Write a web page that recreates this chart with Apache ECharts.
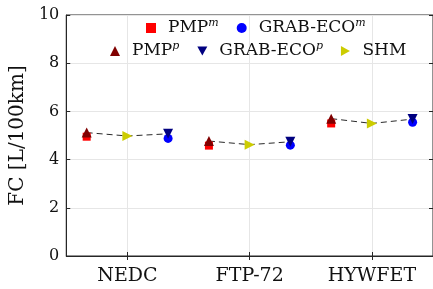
<!DOCTYPE html>
<html>
<head>
<meta charset="utf-8">
<script src="https://cdn.jsdelivr.net/npm/echarts@6/dist/echarts.min.js"></script>
<style>
  html, body { margin: 0; padding: 0; background: #fff; }
  #main { width: 433px; height: 289px; }
</style>
</head>
<body>
<div id="main"></div>
<script>
// drive cycles and fuel consumption [L/100km]
var cycles = ['NEDC', 'FTP-72', 'HYWFET'];
var pmpM  = [4.95, 4.58, 5.50];
var grabM = [4.88, 4.60, 5.55];
var pmpP  = [5.12, 4.77, 5.70];
var grabP = [5.07, 4.74, 5.68];
var shm   = [4.98, 4.62, 5.50];
var yTicks = [0, 2, 4, 6, 8, 10];

var spread = 0.333; // PMP left of cycle, GRAB-ECO right of it
var font = 'DejaVu Serif';

function pts(vals, dx) {
    return vals.map(function (v, i) { return [i + 1 + dx, v]; });
}

var chartDom = document.getElementById('main');
var myChart = echarts.init(chartDom);

// labels with superscripts
var legendText = {
    'PMPm': '{g|}{n|PMP}{s|m}',
    'GRABm': '{g|}{n|GRAB-ECO}{s|m}',
    'PMPp': '{g|}{n|PMP}{s|p}',
    'GRABp': '{g|}{n|GRAB-ECO}{s|p}',
    'SHM': '{g|}{n|SHM}'
};
var legendStyle = {
    fontFamily: font,
    fontSize: 17,
    color: '#111',
    rich: {
        g: { width: 7 },
        n: { fontFamily: font, fontSize: 17, color: '#111', lineHeight: 20 },
        s: { fontFamily: font, fontSize: 11, fontStyle: 'italic', color: '#111', verticalAlign: 'top', lineHeight: 12, padding: [0, 0, 7, 0] }
    }
};
// legend icons (legend does not pick up symbolRotate)
var downTri = 'path://M0,0L10,0L5,9Z';
var rightTri = 'path://M0,0L9,5L0,10Z';

var series = [];
// dashed connecting line per cycle
cycles.forEach(function (c, i) {
    series.push({
        type: 'line',
        silent: true,
        symbol: 'none',
        z: 1,
        lineStyle: { color: '#2a2a2a', width: 1, type: [6, 4] },
        data: [[i + 1 - spread, pmpP[i]], [i + 1, shm[i]], [i + 1 + spread, grabP[i]]]
    });
});
series.push(
    { name: 'PMPm', type: 'scatter', symbol: 'rect', symbolSize: 8, z: 3,
      itemStyle: { color: '#ff0000', opacity: 1 }, data: pts(pmpM, -spread) },
    { name: 'GRABm', type: 'scatter', symbol: 'circle', symbolSize: 9, z: 3,
      itemStyle: { color: '#0000ff', opacity: 1 }, data: pts(grabM, spread) },
    { name: 'PMPp', type: 'scatter', symbol: 'triangle', symbolSize: 10, z: 4,
      itemStyle: { color: '#800000', opacity: 1 }, data: pts(pmpP, -spread) },
    { name: 'GRABp', type: 'scatter', symbol: 'triangle', symbolRotate: 180, symbolSize: 10, z: 4,
      itemStyle: { color: '#000080', opacity: 1 }, data: pts(grabP, spread) },
    { name: 'SHM', type: 'scatter', symbol: 'triangle', symbolRotate: -90, symbolSize: 10, z: 4,
      itemStyle: { color: '#cccc00', opacity: 1 }, data: pts(shm, 0) }
);

var option;
option = {
    animation: false,
    backgroundColor: '#fff',
    grid: {
        left: 64, top: 15, width: 371, height: 241,
        show: true, borderColor: '#262626', borderWidth: 1, backgroundColor: 'transparent'
    },
    legend: [
        {
            data: ['PMPm', 'GRABm'],
            left: 141, top: 13,
            itemWidth: 10, itemHeight: 10, itemGap: 18,
            formatter: function (n) { return legendText[n]; },
            textStyle: legendStyle
        },
        {
            data: [
                { name: 'PMPp' },
                { name: 'GRABp', icon: downTri },
                { name: 'SHM', icon: rightTri }
            ],
            left: 105, top: 36,
            itemWidth: 10, itemHeight: 10, itemGap: 18,
            formatter: function (n) { return legendText[n]; },
            textStyle: legendStyle
        }
    ],
    xAxis: [
        {
            type: 'value', min: 0.5, max: 3.5,
            axisLine: { show: true, lineStyle: { color: '#262626' } },
            axisTick: { show: true, inside: true, length: 4, customValues: [1, 2, 3], lineStyle: { color: '#262626' } },
            axisLabel: {
                customValues: [1, 2, 3], margin: 11,
                fontFamily: font, fontSize: 19, color: '#111',
                formatter: function (v) { return cycles[Math.round(v) - 1]; }
            },
            splitLine: { show: true, lineStyle: { color: '#e6e6e6' } }
        },
        {
            type: 'value', min: 0.5, max: 3.5, position: 'top',
            axisLine: { show: false },
            axisTick: { show: true, inside: true, length: 4, customValues: [1, 2, 3], lineStyle: { color: '#262626' } },
            axisLabel: { show: false },
            splitLine: { show: false }
        }
    ],
    yAxis: [
        {
            type: 'value', min: 0, max: 10, interval: 2,
            name: 'FC [L/100km]', nameLocation: 'middle', nameGap: 27,
            nameTextStyle: { fontFamily: font, fontSize: 20, color: '#111' },
            axisLine: { show: true, lineStyle: { color: '#262626' } },
            axisTick: { show: true, inside: true, length: 4, lineStyle: { color: '#262626' } },
            axisLabel: {
                margin: 7, fontFamily: font, fontSize: 16, color: '#111',
                formatter: function (v) { return yTicks.indexOf(v) >= 0 ? String(v) : ''; }
            },
            splitLine: { show: true, lineStyle: { color: '#e6e6e6' } }
        },
        {
            type: 'value', min: 0, max: 10, interval: 2, position: 'right',
            axisLine: { show: false },
            axisTick: { show: true, inside: true, length: 4, lineStyle: { color: '#262626' } },
            axisLabel: { show: false },
            splitLine: { show: false }
        }
    ],
    series: series
};
option && myChart.setOption(option);
</script>
</body>
</html>
